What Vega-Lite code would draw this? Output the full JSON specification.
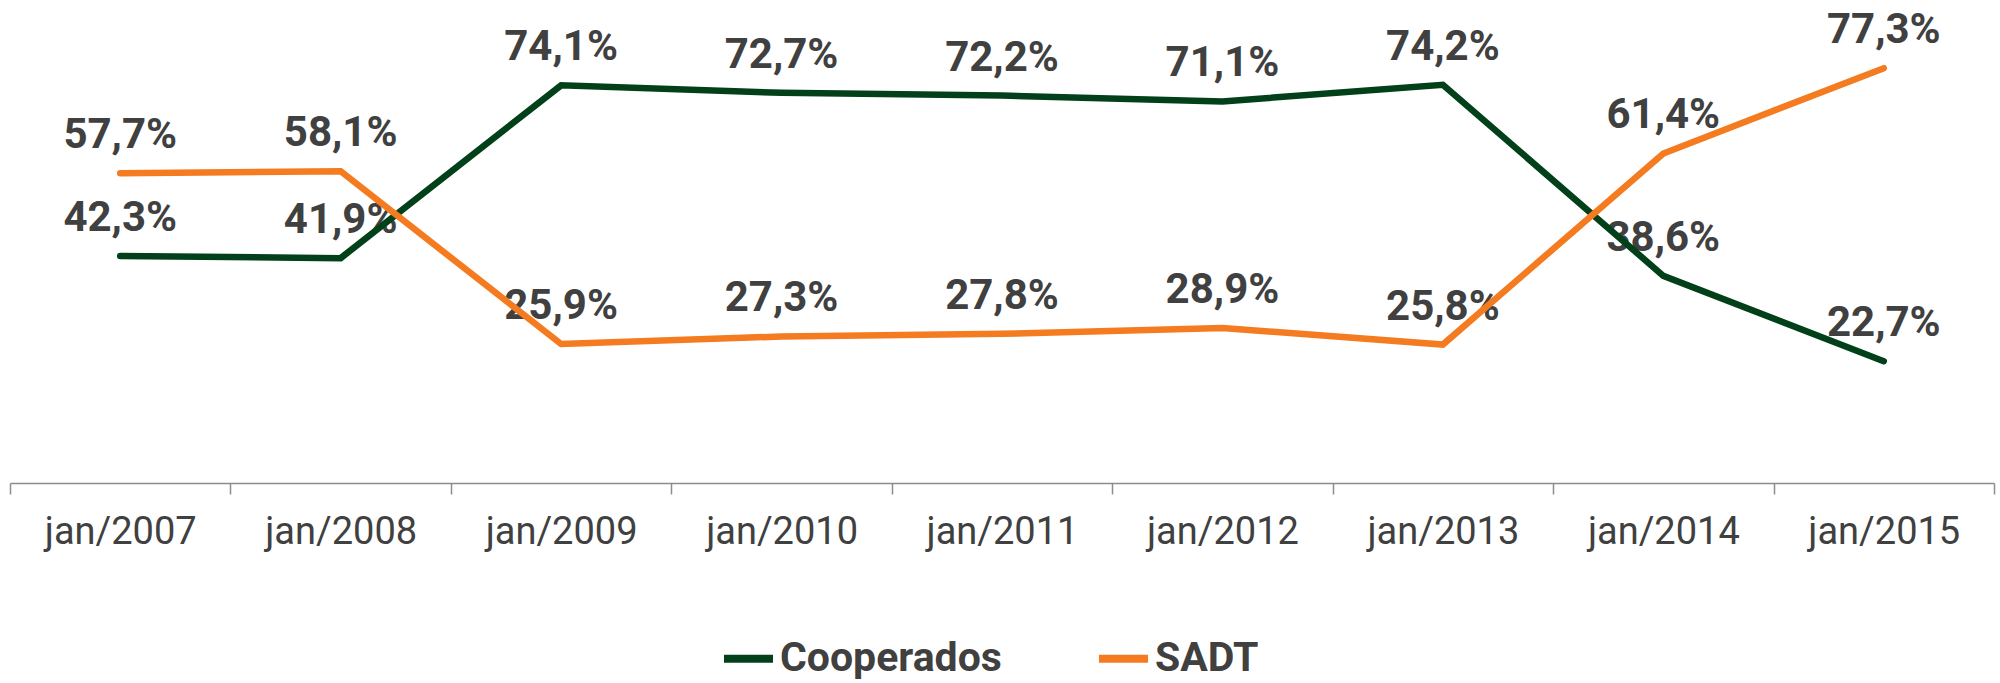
{
  "$schema": "https://vega.github.io/schema/vega-lite/v6.json",
  "width": 1984,
  "height": 483,
  "autosize": "none",
  "padding": {"left": 10, "top": 0, "right": 6, "bottom": 200},
  "background": "white",
  "data": {"values": [
    {"mes": "jan/2007", "serie": "Cooperados", "valor": 42.3, "rotulo": "42,3%"},
    {"mes": "jan/2008", "serie": "Cooperados", "valor": 41.9, "rotulo": "41,9%"},
    {"mes": "jan/2009", "serie": "Cooperados", "valor": 74.1, "rotulo": "74,1%"},
    {"mes": "jan/2010", "serie": "Cooperados", "valor": 72.7, "rotulo": "72,7%"},
    {"mes": "jan/2011", "serie": "Cooperados", "valor": 72.2, "rotulo": "72,2%"},
    {"mes": "jan/2012", "serie": "Cooperados", "valor": 71.1, "rotulo": "71,1%"},
    {"mes": "jan/2013", "serie": "Cooperados", "valor": 74.2, "rotulo": "74,2%"},
    {"mes": "jan/2014", "serie": "Cooperados", "valor": 38.6, "rotulo": "38,6%"},
    {"mes": "jan/2015", "serie": "Cooperados", "valor": 22.7, "rotulo": "22,7%"},
    {"mes": "jan/2007", "serie": "SADT", "valor": 57.7, "rotulo": "57,7%"},
    {"mes": "jan/2008", "serie": "SADT", "valor": 58.1, "rotulo": "58,1%"},
    {"mes": "jan/2009", "serie": "SADT", "valor": 25.9, "rotulo": "25,9%"},
    {"mes": "jan/2010", "serie": "SADT", "valor": 27.3, "rotulo": "27,3%"},
    {"mes": "jan/2011", "serie": "SADT", "valor": 27.8, "rotulo": "27,8%"},
    {"mes": "jan/2012", "serie": "SADT", "valor": 28.9, "rotulo": "28,9%"},
    {"mes": "jan/2013", "serie": "SADT", "valor": 25.8, "rotulo": "25,8%"},
    {"mes": "jan/2014", "serie": "SADT", "valor": 61.4, "rotulo": "61,4%"},
    {"mes": "jan/2015", "serie": "SADT", "valor": 77.3, "rotulo": "77,3%"}
  ]},
  "encoding": {
    "x": {
      "field": "mes", "type": "ordinal", "sort": null,
      "scale": {"type": "band", "paddingInner": 0, "paddingOuter": 0},
      "axis": {
        "title": null, "labelAngle": 0,
        "labelFont": "Roboto", "labelFontSize": 38, "labelColor": "#404040",
        "labelPadding": 19, "tickSize": 11, "tickBand": "extent",
        "tickColor": "#8c8c8c", "tickWidth": 1.5,
        "domainColor": "#8c8c8c", "domainWidth": 1.5,
        "grid": false
      }
    },
    "y": {
      "field": "valor", "type": "quantitative",
      "scale": {"domain": [0, 90], "nice": false, "zero": true},
      "axis": null
    }
  },
  "layer": [
    {
      "mark": {"type": "text", "font": "Roboto", "fontWeight": "bold", "fontSize": 42, "color": "#404040", "baseline": "alphabetic", "align": "center", "dy": -25},
      "encoding": {"text": {"field": "rotulo"}, "detail": {"field": "serie"}}
    },
    {
      "mark": {"type": "line", "strokeWidth": 6.5, "strokeCap": "round", "strokeJoin": "miter"},
      "encoding": {
        "color": {
          "field": "serie", "type": "nominal",
          "scale": {"domain": ["Cooperados", "SADT"], "range": ["#02401a", "#f47b20"]},
          "legend": {
            "title": null, "orient": "none", "direction": "horizontal",
            "legendX": 710, "legendY": 630,
            "symbolType": "stroke", "symbolSize": 2400, "symbolStrokeWidth": 8,
            "labelFont": "Roboto", "labelFontWeight": "bold", "labelFontSize": 41,
            "labelColor": "#404040", "labelOffset": 3, "columnPadding": 81,
            "labelLimit": 500, "padding": 0
          }
        }
      }
    }
  ],
  "config": {"view": {"stroke": null}}
}
